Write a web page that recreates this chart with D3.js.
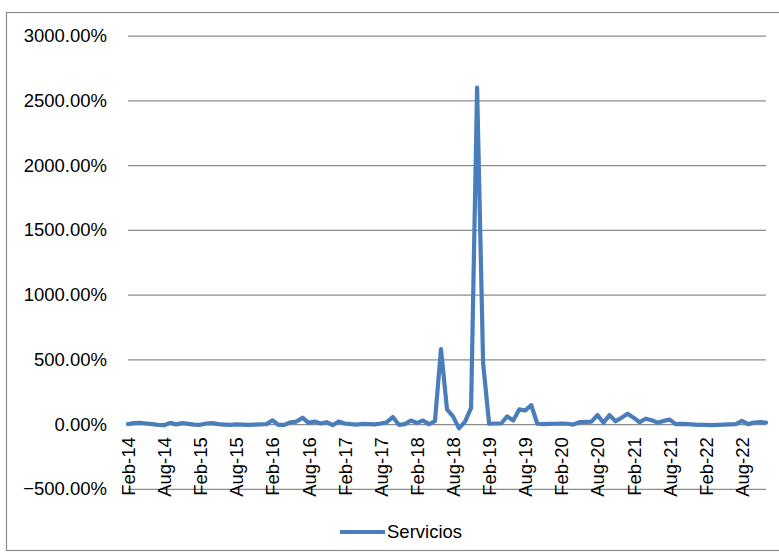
<!DOCTYPE html>
<html>
<head>
<meta charset="utf-8">
<script src="https://cdn.jsdelivr.net/npm/d3@7"></script>
<style>
  html, body { margin: 0; padding: 0; background: #fff; }
  svg { display: block; }
</style>
</head>
<body>
<svg id="chart" width="779" height="557"></svg>
<script>
// Monthly series, Feb-2014 .. Dec-2022, values in percent
const seriesName = "Servicios";
const values = [
  0, 8, 10, 5, 0, -5, -8, 10, -2, 8, 2, -3,
  -5, 5, 8, 0, -3, -5, -2, -4, -5, -3, -2, 0,
  30, -5, -5, 15, 20, 50, 10, 20, 5, 15, -8, 20,
  5, 0, -3, 2, 0, -2, 5, 15, 55, -5, 0, 28,
  10, 28, 0, 23, 580, 114, 60, -33, 20, 125, 2600, 470,
  3, 5, 5, 60, 28, 114, 105, 147, 3, 0, 2, 3,
  4, 3, -3, 15, 18, 20, 70, 12, 70, 22, 50, 80,
  50, 15, 42, 30, 12, 25, 35, 0, 2, 0, -3, -5,
  -5, -8, -5, -3, -2, 0, 25, 0, 12, 15, 12
];
const yTicks = [-500, 0, 500, 1000, 1500, 2000, 2500, 3000];
const tickLabels = ["Feb-14", "Aug-14", "Feb-15", "Aug-15", "Feb-16", "Aug-16",
  "Feb-17", "Aug-17", "Feb-18", "Aug-18", "Feb-19", "Aug-19", "Feb-20",
  "Aug-20", "Feb-21", "Aug-21", "Feb-22", "Aug-22"];

const fmtMonth = d3.timeFormat("%b-%y");
const categories = d3.timeMonth.range(new Date(2014, 1, 1), new Date(2014, 1 + values.length, 1))
  .map(fmtMonth);

const svg = d3.select("#chart");
const W = 779, H = 557;
const FONT = "'Liberation Sans', Arial, sans-serif";

// outer chart frame (right edge runs past the canvas)
svg.append("rect")
  .attr("x", 6.5).attr("y", 12.5)
  .attr("width", W + 20).attr("height", 538)
  .attr("fill", "#fff").attr("stroke", "#8a8a8a").attr("stroke-width", 1.2);

const x = d3.scalePoint().domain(categories).range([128, 766]);
const y = d3.scaleLinear().domain([-500, 3000]).range([488.9, 35.7]);

// horizontal gridlines + value labels
const yAxis = d3.axisLeft(y).tickValues(yTicks)
  .tickSize(-(766 - 128)).tickPadding(21)
  .tickFormat(d => d3.format(".2f")(d) + "%");
const gy = svg.append("g").attr("transform", "translate(128,0)").call(yAxis);
gy.select(".domain").remove();
gy.selectAll(".tick line").attr("stroke", "#8c8c8c").attr("stroke-width", 1.3);
gy.selectAll(".tick text")
  .attr("font-family", FONT).attr("font-size", 18.5).attr("fill", "#000");

// category labels, rotated
const xAxis = d3.axisBottom(x).tickValues(tickLabels).tickSize(0).tickPadding(0);
const gx = svg.append("g").attr("transform", `translate(0,${y(0)})`).call(xAxis);
gx.select(".domain").remove();
gx.selectAll(".tick text")
  .attr("font-family", FONT).attr("font-size", 18.5).attr("fill", "#000")
  .attr("text-anchor", "end")
  .attr("transform", "rotate(-90)")
  .attr("x", -13).attr("y", 0).attr("dy", "0.35em");

// the series line
const line = d3.line()
  .x((d, i) => x(categories[i]))
  .y(d => y(d));
svg.append("path")
  .datum(values)
  .attr("d", line)
  .attr("fill", "none")
  .attr("stroke", "#4a7ebb")
  .attr("stroke-width", 4.2)
  .attr("stroke-linejoin", "round")
  .attr("stroke-linecap", "round");

// legend
const lg = svg.append("g").attr("transform", "translate(340,532)");
lg.append("line").attr("x1", 0).attr("x2", 45).attr("y1", 0).attr("y2", 0)
  .attr("stroke", "#4a7ebb").attr("stroke-width", 4.2);
lg.append("text").attr("x", 47).attr("y", 0).attr("dy", "0.35em")
  .attr("font-family", FONT).attr("font-size", 18.5).attr("fill", "#000")
  .text(seriesName);
</script>
</body>
</html>
